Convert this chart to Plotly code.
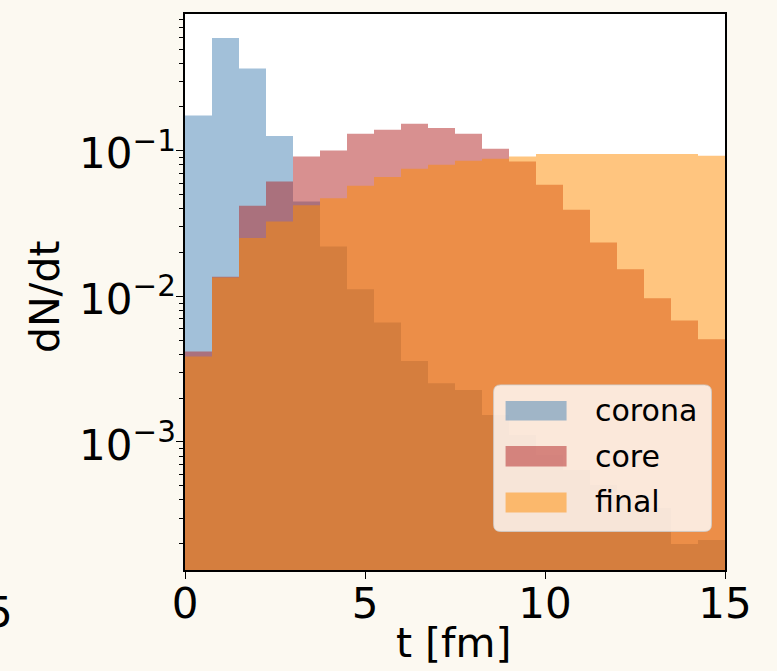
import plotly.graph_objects as go

# ---------------- data ----------------
bin_edges_start = 0.0
bin_width = 0.75
n_bins = 20
t_centers = [bin_edges_start + bin_width * (i + 0.5) for i in range(n_bins)]

corona = [0.1748, 0.595, 0.3679, 0.1262, 0.04482, 0.02199, 0.01121, 0.006604,
          0.003603, 0.002531, 0.002277, 0.001533, 0.001117, 0.000814, 0.000642,
          0.000506, 0.000399, 0.000352, 0.000199, 0.000212]
core = [0.004175, 0.01361, 0.04188, 0.06152, 0.09137, 0.1005, 0.1309, 0.1394,
        0.1533, 0.1432, 0.1309, 0.1032, 0.08442, 0.05839, 0.03931, 0.02343,
        0.01537, 0.009718, 0.006819, 0.005079]
final = [0.003858, 0.0135, 0.02512, 0.03266, 0.04233, 0.04728, 0.05747, 0.06596,
         0.0752, 0.08013, 0.0854, 0.0881, 0.09138, 0.0949, 0.0949, 0.0949,
         0.0949, 0.0949, 0.0949, 0.0924]

series_names = ["corona", "core", "final"]
series_colors = ["rgba(70,130,180,0.5)", "rgba(178,34,34,0.5)", "rgba(255,140,0,0.5)"]

x_ticks = [0, 5, 10, 15]
y_major = [1e-3, 1e-2, 1e-1]
y_major_text = ["10<sup>\u22123</sup>", "10<sup>\u22122</sup>", "10<sup>\u22121</sup>"]
y_minor = [m * 10.0 ** k for k in (-4, -3, -2, -1) for m in range(2, 10)]

x_title = "t [fm]"
y_title = "dN/dt"

# ---------------- figure ----------------
W, H = 777, 671
L, R, T, B = 185.3, 725.5, 14.3, 570.0
BG = "#fcf9f1"
FONT = "DejaVu Sans"
TICK_FS = 42
TITLE_FS = 41
LEG_FS = 30

fig = go.Figure()
for name, vals, col in zip(series_names, [corona, core, final], series_colors):
    fig.add_trace(go.Bar(x=t_centers, y=vals, width=bin_width, name=name,
                         marker=dict(color=col, line=dict(width=0)),
                         showlegend=False))

fig.update_layout(
    width=W, height=H,
    margin=dict(l=L, r=W - R, t=T, b=H - B, pad=0),
    paper_bgcolor=BG,
    plot_bgcolor="white",
    barmode="overlay",
    font=dict(family=FONT, color="black", size=TICK_FS),
    xaxis=dict(range=[0, 15], tickvals=x_ticks, ticks="outside", ticklen=7,
               tickwidth=1.3, tickcolor="black", showline=True, mirror=True,
               linecolor="black", linewidth=1.5, showgrid=False, zeroline=False,
               tickfont=dict(size=TICK_FS), automargin=False, ticklabelstandoff=-11),
    yaxis=dict(type="log", range=[-3.8797, -0.0605], tickvals=y_major, ticktext=y_major_text,
               ticks="outside", ticklen=7, tickwidth=1.3, tickcolor="black",
               showline=True, mirror=True, linecolor="black", linewidth=1.5,
               showgrid=False, zeroline=False, tickfont=dict(size=TICK_FS),
               automargin=False, ticklabelstandoff=-8, ticklabelshift=3,
               minor=dict(tickvals=y_minor, ticks="outside", ticklen=4, tickwidth=1,
                          tickcolor="black", showgrid=False)),
)

# ---------------- helpers: pixel -> paper ----------------
pw, ph = R - L, B - T
def px(x):
    return (x - L) / pw
def py(y):
    return (B - y) / ph

# axis titles
fig.add_annotation(text=x_title, xref="paper", yref="paper", x=px(453.5), y=py(643),
                   xanchor="center", yanchor="middle", showarrow=False,
                   font=dict(size=TITLE_FS, family=FONT, color="black"))
fig.add_annotation(text=y_title, xref="paper", yref="paper", x=px(46), y=py(296.5),
                   xanchor="center", yanchor="middle", showarrow=False, textangle=-90,
                   font=dict(size=TITLE_FS, family=FONT, color="black"))

# ---------------- custom legend (matplotlib style) ----------------
bx0, bx1, by0, by1, rad = 494, 712, 385, 531.5, 7
rx, ry = rad / pw, rad / ph
x0, x1, y0, y1 = px(bx0), px(bx1), py(by1), py(by0)
path = (f"M {x0+rx},{y0} L {x1-rx},{y0} Q {x1},{y0} {x1},{y0+ry} "
        f"L {x1},{y1-ry} Q {x1},{y1} {x1-rx},{y1} L {x0+rx},{y1} "
        f"Q {x0},{y1} {x0},{y1-ry} L {x0},{y0+ry} Q {x0},{y0} {x0+rx},{y0} Z")
fig.add_shape(type="path", path=path, xref="paper", yref="paper",
              fillcolor="rgba(255,255,255,0.8)", line=dict(color="rgba(204,204,204,0.8)", width=1),
              layer="above")

sw_rows = [(401, 420.5, 411), (446, 466.5, 457), (492.5, 512.5, 502)]
for (ya, yb, yc), name, col in zip(sw_rows, series_names, series_colors):
    fig.add_shape(type="rect", xref="paper", yref="paper",
                  x0=px(506), x1=px(567), y0=py(yb), y1=py(ya),
                  fillcolor=col, line=dict(width=0), layer="above")
    fig.add_annotation(text=name, xref="paper", yref="paper", x=px(593), y=py(yc),
                       xanchor="left", yanchor="middle", showarrow=False,
                       font=dict(size=LEG_FS, family=FONT, color="black"))

# stray tick label from neighbouring panel (cut at left edge)
fig.add_annotation(text="5", xref="paper", yref="paper", x=px(15), y=py(612),
                   xanchor="right", yanchor="middle", showarrow=False,
                   font=dict(size=TICK_FS, family=FONT, color="black"))

fig.write_html("out.html", config={"displayModeBar": False},
               post_script=f"document.body.style.margin='0';document.body.style.padding='0';"
                           f"document.body.style.background='{BG}';document.body.style.overflow='hidden';")
